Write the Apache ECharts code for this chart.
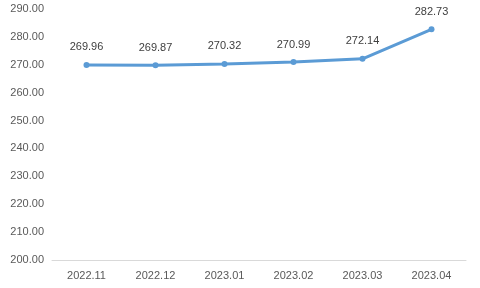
<!DOCTYPE html>
<html><head><meta charset="utf-8">
<script src="https://cdn.jsdelivr.net/npm/echarts@6/dist/echarts.min.js"></script>
<style>html,body{margin:0;padding:0;background:#fff}#c{width:480px;height:288px}</style>
</head><body><div id="c"></div>
<script>
const categories = ['2022.11','2022.12','2023.01','2023.02','2023.03','2023.04'];
const values = [269.96, 269.87, 270.32, 270.99, 272.14, 282.73];
const chart = echarts.init(document.getElementById('c'));
chart.setOption({
  animation: false,
  grid: {left: 52, right: 14, top: 9, bottom: 28},
  xAxis: {
    type: 'category', data: categories,
    axisLine: {lineStyle: {color: '#d9d9d9', width: 1}},
    axisTick: {show: false},
    axisLabel: {color: '#595959', fontSize: 11, fontFamily: 'Liberation Sans, Arial', margin: 10}
  },
  yAxis: {
    type: 'value', min: 200, max: 290, interval: 10,
    axisLine: {show: false}, axisTick: {show: false},
    splitLine: {show: false},
    axisLabel: {color: '#595959', fontSize: 11, fontFamily: 'Liberation Sans, Arial', margin: 8,
      formatter: v => v.toFixed(2)}
  },
  series: [{
    type: 'line', data: values,
    lineStyle: {color: '#5B9BD5', width: 3},
    itemStyle: {color: '#5B9BD5'},
    symbol: 'circle', symbolSize: 6,
    label: {show: true, position: 'top', distance: 9, color: '#404040', fontSize: 11,
      fontFamily: 'Liberation Sans, Arial', formatter: p => p.value.toFixed(2)}
  }]
});
</script></body></html>
